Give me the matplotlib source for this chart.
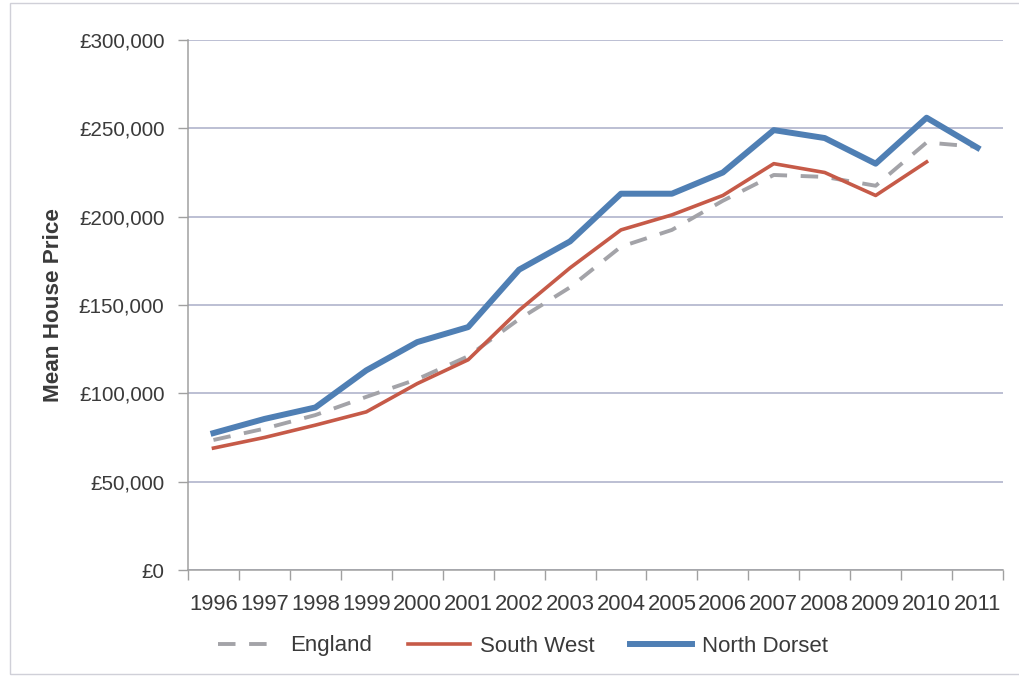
import matplotlib.pyplot as plt
from matplotlib.ticker import FuncFormatter, FixedLocator
from matplotlib.patches import Rectangle

# Mean house prices by year
years = ['1996', '1997', '1998', '1999', '2000', '2001', '2002', '2003',
         '2004', '2005', '2006', '2007', '2008', '2009', '2010', '2011']
england = [73600, 80000, 87700, 98000, 108000, 121000, 142000, 160000,
           183000, 192500, 209000, 223600, 222500, 217500, 242000, 239500]
south_west = [69000, 75000, 82000, 89500, 105500, 119000, 147000, 171000,
              192500, 201000, 212000, 230000, 225000, 212000, 231000]
north_dorset = [77500, 85500, 92000, 113000, 129000, 137500, 170000, 186000,
                213000, 213000, 225000, 249000, 244500, 230000, 256000, 239000]

plt.rcParams['font.family'] = ['Liberation Sans', 'DejaVu Sans']
text_col = '#3a3a3a'

fig = plt.figure(figsize=(10.19, 6.77), dpi=100)
fig.patch.set_facecolor('white')
ax = fig.add_axes([188 / 1019, 1 - 570 / 677, 815 / 1019, 530 / 677])

x_eng = list(range(len(england)))
x_sw = list(range(len(south_west)))
x_nd = list(range(len(north_dorset)))

ax.plot(x_eng, england, color='#a3a3a8', lw=2.8, dashes=(4.5, 3.5),
        label='England', zorder=3)
ax.plot(x_sw, south_west, color='#c65a48', lw=2.6, label='South West',
        solid_joinstyle='round', zorder=4)
ax.plot(x_nd, north_dorset, color='#4f7fb4', lw=4.3, label='North Dorset',
        solid_joinstyle='round', zorder=5)

ax.set_xlim(-0.5, len(years) - 0.5)
ax.set_ylim(0, 300000)

# category labels at centres, tick marks between categories
ax.set_xticks(range(len(years)))
ax.set_xticklabels(years, fontsize=15.8, color=text_col)
ax.xaxis.set_minor_locator(FixedLocator([i - 0.5 for i in range(len(years) + 1)]))
ax.tick_params(axis='x', which='major', length=0, pad=17)
ax.tick_params(axis='x', which='minor', length=7, color='#a0a0a0', width=1)

ax.set_yticks(range(0, 300001, 50000))
ax.yaxis.set_major_formatter(FuncFormatter(lambda v, p: '£{:,.0f}'.format(v)))
ax.tick_params(axis='y', length=7, color='#a0a0a0', width=1, labelsize=14.9,
               labelcolor=text_col, pad=10)

ax.grid(axis='y', color='#aaaec8', lw=1.1)
ax.set_axisbelow(True)
for s in ['top', 'right']:
    ax.spines[s].set_visible(False)
for s in ['left', 'bottom']:
    ax.spines[s].set_color('#a0a0a0')
    ax.spines[s].set_linewidth(1.1)

ax.set_ylabel('Mean House Price', fontsize=16.2, fontweight='bold',
              color=text_col)
ax.yaxis.set_label_coords(-0.152, 0.5)

leg = fig.legend(loc='center', bbox_to_anchor=(523 / 1019, 1 - 646 / 677),
                 ncol=3, frameon=False, fontsize=16, handlelength=2.8,
                 handletextpad=0.45, columnspacing=1.6)
for t in leg.get_texts():
    t.set_color(text_col)

# faint outer frame
fig.patches.append(Rectangle((10 / 1019, 0.005), 1.1, 1 - 3 / 677 - 0.005,
                             transform=fig.transFigure, fill=False,
                             edgecolor='#d0d0d8', lw=1.0))

fig.savefig('out.png', dpi=100)
